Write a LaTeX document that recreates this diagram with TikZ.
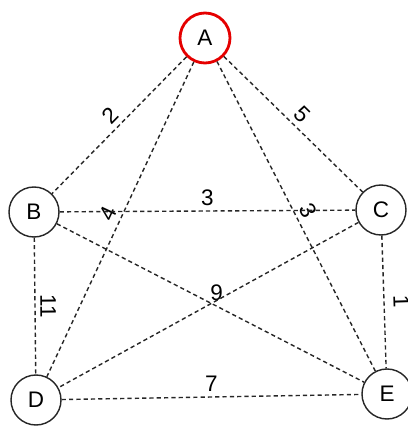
\documentclass[tikz,border=0pt]{standalone}
\usepackage{fontspec}
\setmainfont{Liberation Sans}
\usepackage{xcolor}
\usetikzlibrary{arrows,automata}

\begin{document}
\begin{tikzpicture}[auto,every node/.style={font=\fontsize{16}{19}\selectfont},
	every state/.style={draw=black!85,line width=1pt,minimum size=1.25cm,inner sep=0pt},
	wedge/.style={draw=black!85,line width=1pt,dash pattern=on 3pt off 2.2pt}]
			  \useasboundingbox (0,0) rectangle (10.2,10.675);
			  \node[state,draw=red!90!black,line width=2pt] (A) at (5.125,9.725) {A};
			  \node[state]         (B) at (0.85,5.375) {B};
			  \node[state]         (C) at (9.525,5.425) {C};
			  \node[state]         (D) at (0.9,0.675) {D};
			  \node[state]         (E) at (9.675,0.825) {E};
			
			  \path[wedge] (A) edge node[sloped,above] {2} (B)
			         	 edge node[sloped,above] {5} (C)
			         	 edge node[sloped,above] {4} (D)
			         	 edge node[sloped,above] {3} (E)
			        (B) edge node[above] {3} (C)
			         	 edge node[sloped,above] {11} (D)
			         	 edge node[above,pos=0.52] {9} (E)
			        (C) edge (D)
			         	 edge node[sloped,above,yshift=3pt] {1} (E)
			        (D) edge node[above] {7} (E);
			\end{tikzpicture}
\end{document}
